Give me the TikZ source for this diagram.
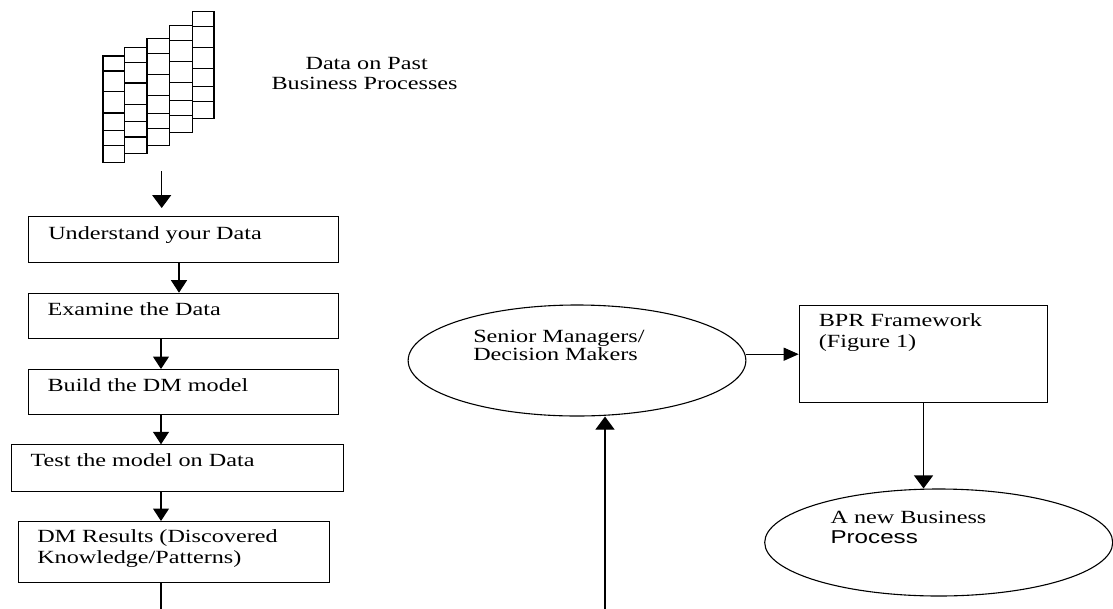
\documentclass[tikz,border=0pt]{standalone}
\usepackage{fontspec}
\setmainfont{Liberation Serif}[FakeStretch=1.3]
\newfontfamily\arialf{Liberation Sans}[FakeStretch=1.3]
\usetikzlibrary{shapes.geometric,arrows.meta}
\begin{document}
\begin{tikzpicture}[x=1pt,y=-1pt,
  line width=1.1pt,
  box/.style={draw, rectangle, inner sep=0pt, anchor=north west},
  oval/.style={draw, ellipse, inner sep=0pt},
  txt/.style={inner sep=0pt, anchor=base west, font=\fontsize{18.6}{20.5}\selectfont},
  arr/.style={-{Triangle[length=12.5pt,width=16pt]}},
  bigarr/.style={-{Triangle[length=13pt,width=19pt]}},
  gridline/.style={line width=1.2pt}]
\useasboundingbox (0,0) rectangle (1113,608);

% data stack
\foreach \xa/\xb/\yt in {103/124.7/56, 124.7/147/47.3, 147/169.7/38.7, 169.7/192.3/25.7, 192.3/214/11.7}{
  \draw[gridline] (\xa,\yt) rectangle (\xb,\yt+106.5);
  \foreach \o in {15,35.7,57,74.4,89.7}{
    \draw[gridline] (\xa,\yt+\o) -- (\xb,\yt+\o);
  }
}
\node[txt] (tdata1) at (305,69) {Data on Past};
\node[txt] (tdata2) at (271,89.3) {Business Processes};

% left column
\node[box, minimum width=310pt, minimum height=46.3pt] (b1) at (28,216) {};
\node[box, minimum width=310pt, minimum height=45.3pt] (b2) at (28,292.7) {};
\node[box, minimum width=310pt, minimum height=45.3pt] (b3) at (28,369) {};
\node[box, minimum width=331.7pt, minimum height=46.4pt] (b4) at (11.3,444.3) {};
\node[box, minimum width=310.4pt, minimum height=60.7pt] (b5) at (18.3,521) {};

\node[txt] (t1) at (47.7,239) {Understand your Data};
\node[txt] (t2) at (47,315.7) {Examine the Data};
\node[txt] (t3) at (47,391.7) {Build the DM model};
\node[txt] (t4) at (30,466.7) {Test the model on Data};
\node[txt] (t5a) at (36.7,542.7) {DM Results (Discovered};
\node[txt] (t5b) at (36.7,563.3) {Knowledge/Patterns)};

\coordinate (c179) at (179,0);
\coordinate (c161) at (161,0);
\coordinate (gtop) at (161.7,171);
\coordinate (gtip) at (161.7,208);
\coordinate (b5end) at (161,612);

\draw[bigarr] (gtop) -- (gtip);
\draw[arr] (b1.south -| c179) -- (b2.north -| c179);
\draw[arr] (b2.south -| c161) -- (b3.north -| c161);
\draw[arr] (b3.south -| c161) -- (b4.north -| c161);
\draw[arr] (b4.south -| c161) -- (b5.north -| c161);
\draw (b5.south -| c161) -- (b5end);

% right part
\node[oval, minimum width=337.7pt, minimum height=111pt] (e1) at (577,360.5) {};
\node[txt] (s1) at (472.7,342.3) {Senior Managers/};
\node[txt] (s2) at (472.7,360.7) {Decision Makers};

\node[box, minimum width=248.6pt, minimum height=97.3pt] (b6) at (798.7,305) {};
\node[txt] (f1) at (818.3,326) {BPR Framework};
\node[txt] (f2) at (818.3,347.3) {(Figure 1)};

\node[oval, minimum width=348pt, minimum height=107pt] (e2) at (938.7,542.5) {};
\node[txt] (n1) at (830,523.3) {A new Business};
\node[txt] (n2) at (830,543.3) {\arialf Process};

\coordinate (upstart) at (605,612);
\draw[bigarr] (upstart) -- (e1.south -| upstart);
\draw[-{Triangle[length=15pt,width=13pt]}] (e1.east |- b6.west) -- (b6.west);
\draw[bigarr] (b6.south) -- (b6.south |- e2.north);
\end{tikzpicture}
\end{document}
